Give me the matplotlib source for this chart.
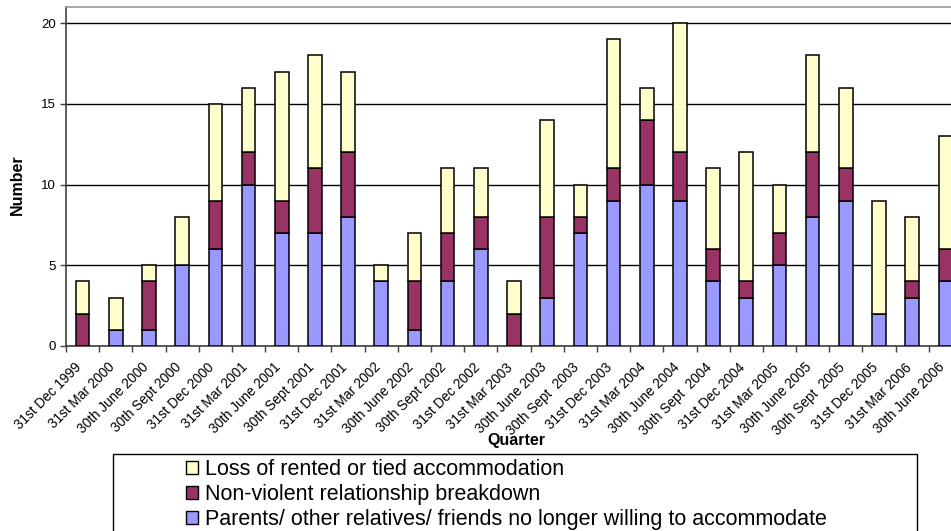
import matplotlib
matplotlib.use("Agg")
import matplotlib.pyplot as plt
import matplotlib.transforms as mtransforms
from matplotlib.patches import Rectangle, Patch
import numpy as np

plt.rcParams['font.family'] = ['Liberation Sans', 'DejaVu Sans']

quarters = [
    "31st Dec 1999", "31st Mar 2000", "30th June 2000", "30th Sept 2000",
    "31st Dec 2000", "31st Mar 2001", "30th June 2001", "30th Sept 2001",
    "31st Dec 2001", "31st Mar 2002", "30th June 2002", "30th Sept 2002",
    "31st Dec 2002", "31st Mar 2003", "30th June 2003", "30th Sept  2003",
    "31st Dec 2003", "31st Mar 2004", "30th June 2004", "30th Sept  2004",
    "31st Dec 2004", "31st Mar 2005", "30th June 2005", "30th Sept  2005",
    "31st Dec 2005", "31st Mar 2006", "30th June 2006",
]

parents = [0, 1, 1, 5, 6, 10, 7, 7, 8, 4, 1, 4, 6, 0, 3, 7, 9, 10, 9, 4, 3, 5, 8, 9, 2, 3, 4]
relationship = [2, 0, 3, 0, 3, 2, 2, 4, 4, 0, 3, 3, 2, 2, 5, 1, 2, 4, 3, 2, 1, 2, 4, 2, 0, 1, 2]
rented = [2, 2, 1, 3, 6, 4, 8, 7, 5, 1, 3, 4, 3, 2, 6, 2, 8, 2, 8, 5, 8, 3, 6, 5, 7, 4, 7]

series_names = [
    "Parents/ other relatives/ friends no longer willing to accommodate",
    "Non-violent relationship breakdown",
    "Loss of rented or tied accommodation",
]
colors = ["#9999FF", "#993366", "#FFFFCC"]

W, H = 951, 531
fig = plt.figure(figsize=(W / 100, H / 100), dpi=100)

# plot area runs past the right edge of the canvas
left_px, right_px, top_px, bottom_px = 66, 962, 7, 346
ax = fig.add_axes([left_px / W, 1 - bottom_px / H,
                   (right_px - left_px) / W, (bottom_px - top_px) / H])

x = np.arange(len(quarters))
bottom = np.zeros(len(quarters))
for vals, col, name in zip([parents, relationship, rented], colors, series_names):
    v = np.array(vals, dtype=float)
    ax.bar(x, v, width=0.41, bottom=bottom, color=col, edgecolor="black",
           linewidth=1.1, label=name, zorder=3)
    bottom += v

ax.set_xlim(-0.5, len(quarters) - 0.5)
ax.set_ylim(0, 21)
ax.set_yticks([0, 5, 10, 15, 20])
ax.yaxis.grid(True, color="black", linewidth=1.0, zorder=0)
ax.set_axisbelow(True)

# tick marks sit between categories, labels at category centres
ax.set_xticks(np.arange(-0.5, len(quarters), 1.0))
ax.set_xticklabels([])
ax.set_xticks(x, minor=True)
ax.set_xticklabels(quarters, minor=True, rotation=45, ha="right",
                   rotation_mode="anchor", fontsize=9.8)
ax.tick_params(axis="x", which="major", direction="out", length=4,
               width=1, color="#404040")
ax.tick_params(axis="x", which="minor", length=0, pad=6)
ax.tick_params(axis="y", direction="out", length=4, width=1,
               color="#404040", labelsize=9.5, pad=3)

shift = mtransforms.ScaledTranslation(-0.08, -0.06, fig.dpi_scale_trans)
for lbl in ax.get_xticklabels(minor=True):
    lbl.set_transform(lbl.get_transform() + shift)

ax.spines["top"].set_color("#999999")
ax.spines["top"].set_linewidth(1.2)
ax.spines["right"].set_visible(False)
ax.spines["left"].set_color("#404040")
ax.spines["left"].set_linewidth(1.2)
ax.spines["bottom"].set_color("#404040")
ax.spines["bottom"].set_linewidth(1.2)

fig.text(17 / W, 1 - 185 / H, "Number", rotation=90, fontsize=11.5,
         fontweight="bold", ha="center", va="center")
fig.text(516 / W, 1 - 440 / H, "Quarter", fontsize=11.5,
         fontweight="bold", ha="center", va="center")

# legend box
fig.patches.append(Rectangle((113 / W, 1 - 560 / H), (917 - 113) / W,
                             (560 - 454) / H, transform=fig.transFigure,
                             facecolor="white", edgecolor="black",
                             linewidth=1.0, zorder=1))
handles = [Patch(facecolor=colors[2], edgecolor="black", linewidth=1.0),
           Patch(facecolor=colors[1], edgecolor="black", linewidth=1.0),
           Patch(facecolor=colors[0], edgecolor="black", linewidth=1.0)]
labels = [series_names[2], series_names[1], series_names[0]]
leg = fig.legend(handles, labels, loc="upper left",
                 bbox_to_anchor=(186 / W, 1 - 459 / H), frameon=False,
                 fontsize=15.5, handlelength=0.56, handleheight=0.56,
                 handletextpad=0.3, labelspacing=0.19, borderpad=0,
                 borderaxespad=0)
leg.set_zorder(2)

fig.savefig("out.png", dpi=100)
